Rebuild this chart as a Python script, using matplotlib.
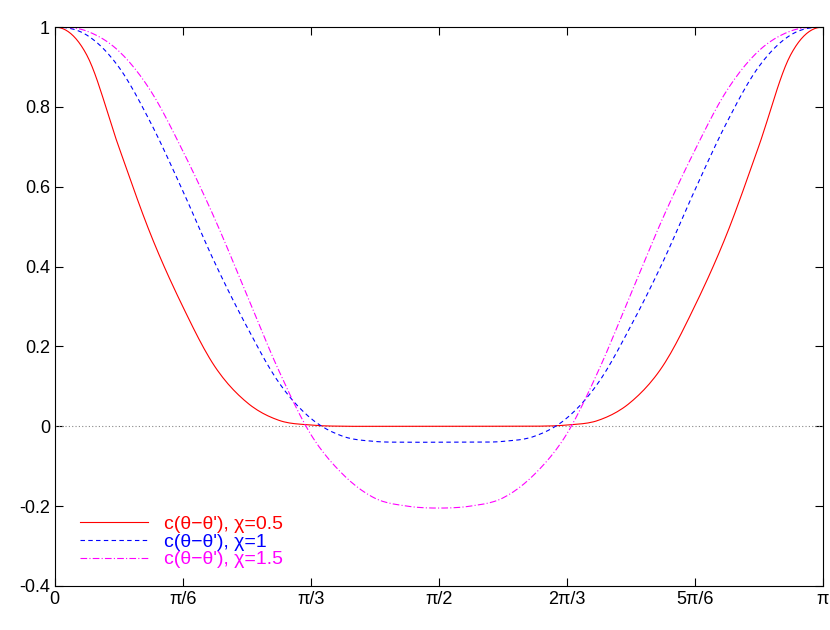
import numpy as np
import matplotlib
matplotlib.use("Agg")
import matplotlib.pyplot as plt

plt.rcParams["font.family"] = "Liberation Sans"

# x in units of pi/24
k = list(range(25))
red = [1.0, 0.93, 0.70, 0.48, 0.30, 0.15, 0.06, 0.015, 0.003, 0.0, 0.0, 0.0, 0.0,
       0.0, 0.0, 0.0, 0.003, 0.015, 0.06, 0.15, 0.30, 0.48, 0.70, 0.93, 1.0]
blue = [1.0, 0.98, 0.90, 0.76, 0.59, 0.41, 0.25, 0.11, 0.02, -0.025, -0.038, -0.04, -0.04,
        -0.04, -0.038, -0.025, 0.02, 0.11, 0.25, 0.41, 0.59, 0.76, 0.90, 0.98, 1.0]
mag = [1.0, 0.99, 0.94, 0.84, 0.69, 0.52, 0.33, 0.14, -0.02, -0.12, -0.18, -0.20, -0.205,
       -0.20, -0.18, -0.12, -0.02, 0.14, 0.33, 0.52, 0.69, 0.84, 0.94, 0.99, 1.0]
tick_labels = ["0", "π/6", "π/3", "π/2", "2π/3", "5π/6", "π"]


def smooth(xs, ys, n=12):
    """Catmull-Rom rendering between the read points (display only)."""
    xs = np.asarray(xs, float); ys = np.asarray(ys, float)
    px = np.concatenate([[2*xs[0]-xs[1]], xs, [2*xs[-1]-xs[-2]]])
    py = np.concatenate([[ys[1]], ys, [ys[-2]]])
    ox, oy = [], []
    t = np.linspace(0, 1, n, endpoint=False)
    for i in range(1, len(px) - 2):
        for P, out in ((px, ox), (py, oy)):
            p0, p1, p2, p3 = P[i-1], P[i], P[i+1], P[i+2]
            out.extend(0.5*((2*p1) + (-p0+p2)*t + (2*p0-5*p1+4*p2-p3)*t**2
                            + (-p0+3*p1-3*p2+p3)*t**3))
    ox.append(xs[-1]); oy.append(ys[-1])
    return np.array(ox), np.array(oy)


x = np.array(k) * np.pi / 24
fig = plt.figure(figsize=(8.3, 6.3), dpi=100)
ax = fig.add_axes([0.066, 0.07, 0.925, 0.887])
ax.axhline(0, color="#888888", lw=0.8, ls=(0, (1, 2)))
ax.plot(*smooth(x, red), color="red", lw=0.8, label="c(θ−θ'), χ=0.5")
ax.plot(*smooth(x, blue), color="blue", lw=0.8, ls=(0, (4, 3)), label="c(θ−θ'), χ=1")
ax.plot(*smooth(x, mag), color="magenta", lw=0.8, ls=(0, (6, 2, 1, 2)), label="c(θ−θ'), χ=1.5")
ax.set_xlim(0, np.pi)
ax.set_ylim(-0.4, 1)
ax.set_xticks(np.arange(7) * np.pi / 6)
ax.set_xticklabels(tick_labels)
ax.set_yticks([-0.4, -0.2, 0, 0.2, 0.4, 0.6, 0.8, 1])
ax.set_yticklabels(["-0.4", "-0.2", "0", "0.2", "0.4", "0.6", "0.8", "1"])
ax.tick_params(direction="in", top=True, right=True, labelsize=13, length=6)
leg = ax.legend(loc="lower left", frameon=False, fontsize=14, handlelength=3.5,
                labelspacing=0.0, bbox_to_anchor=(0.01, 0.0))
for t, c in zip(leg.get_texts(), ["red", "blue", "magenta"]):
    t.set_color(c)
fig.savefig("out.png")
